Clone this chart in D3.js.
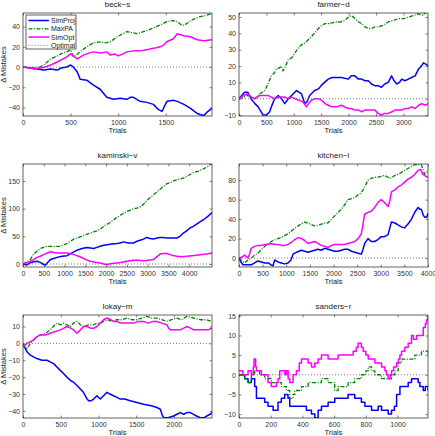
<!DOCTYPE html>
<html><head><meta charset="utf-8">
<script src="https://cdn.jsdelivr.net/npm/d3@7"></script>
<style>body{margin:0;background:#fff} text{font-family:"Liberation Sans",Arial,Helvetica,sans-serif}</style>
</head><body><svg id="c" width="435" height="436"></svg>
<script>
// ---- data: [trial, delta mistakes] ----
const seriesNames = ["SimProj","MaxPA","SimOpt","Optimal"];
const titles = ["beck−s","farmer−d","kaminski−v","kitchen−l","lokay−m","sanders−r"];
const xMaxes = [1985,3450,4550,4000,2505,1192];
const yDomains = [[-48.5,53.5],[-10.6,52.5],[-5.4,180.7],[-9.2,96.6],[-44.2,16.8],[-11,15.2]];
const xTicks = [[0,500,1000,1500],[0,500,1000,1500,2000,2500,3000],[0,500,1000,1500,2000,2500,3000,3500,4000],[0,500,1000,1500,2000,2500,3000,3500,4000],[0,500,1000,1500,2000],[0,200,400,600,800,1000]];
const yTicks = [[-40,-20,0,20,40],[-10,0,10,20,30,40,50],[0,50,100,150],[0,20,40,60,80],[-40,-30,-20,-10,0,10],[-10,-5,0,5,10,15]];

const beckSimProj = [[0,0],[80,-1],[150,-2],[220,-3],[290,-2],[360,-3],[400,-1],[460,0],[500,2],[530,0],[570,-5],[600,-12],[670,-13],[740,-18],[810,-22],[880,-30],[950,-32],[1020,-31],[1090,-32],[1127,-30],[1160,-30],[1230,-34],[1300,-35],[1370,-37],[1420,-42],[1460,-44],[1490,-38],[1512,-34],[1580,-33],[1620,-34],[1690,-37],[1760,-41],[1800,-44],[1830,-46],[1860,-47],[1900,-48],[1930,-45],[1985,-41]];
const beckMaxPA = [[0,0],[100,-1],[180,0],[230,3],[290,8],[360,11],[420,14],[460,15],[500,17],[530,10],[560,12],[600,15],[670,20],[740,24],[810,25],[870,24],[915,25],[990,30],[1050,33],[1090,35],[1150,34],[1200,33],[1300,36],[1400,40],[1450,42],[1510,45],[1580,46],[1620,45],[1670,41],[1720,43],[1760,46],[1860,50],[1920,51],[1985,53]];
const beckSimOpt = [[0,0],[60,-1],[120,-2],[180,-1],[230,0],[290,2],[360,5],[420,8],[460,10],[500,13],[540,10],[570,8],[640,12],[700,14],[740,15],[820,14],[880,15],[915,12],[960,13],[1000,11],[1050,13],[1090,15],[1160,16],[1230,16],[1300,17],[1340,18],[1400,19],[1440,20],[1480,22],[1510,25],[1580,28],[1620,33],[1690,31],[1760,30],[1830,27],[1900,26],[1985,27]];

const farmerSimProj = [[0,0],[50,2],[100,4],[160,4],[220,0],[290,-3],[350,-5],[440,-10],[500,-10],[560,-8],[590,-5],[650,0],[715,2],[775,0],[835,-3],[900,0],[960,2],[1050,5],[1140,3],[1200,-3],[1240,-2],[1290,2],[1380,5],[1450,6],[1500,8],[1560,10],[1630,12],[1700,13],[1750,13],[1870,13],[1995,12],[2050,14],[2115,14],[2180,12],[2240,12],[2300,11],[2360,11],[2420,9],[2480,8],[2540,8],[2600,7],[2660,9],[2725,10],[2785,14],[2830,11],[2880,9],[2930,10],[2970,12],[3030,11],[3090,12],[3150,13],[3215,14],[3275,18],[3330,20],[3365,22],[3420,21],[3450,20]];
const farmerMaxPA = [[0,0],[80,1],[160,2],[220,1],[290,0],[380,3],[470,5],[530,9],[590,14],[650,16],[680,18],[740,19],[775,20],[805,17],[850,20],[900,24],[960,25],[1020,28],[1080,31],[1140,33],[1200,34],[1260,36],[1320,38],[1400,41],[1450,43],[1510,45],[1570,46],[1650,46],[1750,47],[1850,47],[1930,48],[2000,50],[2055,51],[2120,49],[2180,47],[2240,46],[2300,44],[2360,43],[2420,43],[2480,44],[2540,44],[2630,45],[2725,47],[2820,48],[2910,49],[3000,49],[3090,50],[3180,51],[3275,52],[3360,51],[3400,53],[3450,52]];
const farmerSimOpt = [[0,0],[80,2],[160,3],[220,1],[290,0],[380,2],[450,2],[530,2],[590,1],[650,0],[720,1],[780,1],[835,1],[900,0],[960,1],[1020,0],[1100,-1],[1170,-2],[1230,-5],[1270,-3],[1320,-1],[1380,0],[1450,0],[1510,-1],[1570,-3],[1630,-4],[1690,-5],[1780,-5],[1870,-4],[1930,-5],[1995,-6],[2050,-6],[2115,-7],[2180,-7],[2240,-8],[2300,-7],[2360,-7],[2420,-7],[2480,-7],[2540,-9],[2600,-10],[2660,-9],[2725,-9],[2790,-8],[2850,-7],[2910,-7],[2970,-7],[3030,-6],[3090,-6],[3150,-5],[3215,-6],[3280,-4],[3335,-3],[3400,-4],[3450,-3]];

const kaminskiSimProj = [[0,0],[80,-2],[175,2],[255,4],[335,5],[415,3],[480,0],[540,-2],[600,3],[660,8],[740,10],[820,12],[940,14],[1060,15],[1180,20],[1300,25],[1420,28],[1540,30],[1620,29],[1700,28],[1780,30],[1860,32],[1940,34],[2020,35],[2140,36],[2260,37],[2340,38],[2420,40],[2540,38],[2660,38],[2740,41],[2820,43],[2900,45],[2980,48],[3060,46],[3140,45],[3220,47],[3300,48],[3380,48],[3460,47],[3580,47],[3700,47],[3780,50],[3860,56],[3940,60],[4020,65],[4100,68],[4180,72],[4260,76],[4345,80],[4450,86],[4550,93]];
const kaminskiMaxPA = [[0,0],[100,4],[175,8],[255,18],[335,23],[415,28],[500,30],[580,32],[660,32],[780,32],[900,32],[980,35],[1060,37],[1140,41],[1220,45],[1340,48],[1460,52],[1580,55],[1700,58],[1780,60],[1860,63],[1980,70],[2100,75],[2220,82],[2340,88],[2500,95],[2660,100],[2740,101],[2820,103],[2900,108],[2980,115],[3060,120],[3140,125],[3220,130],[3300,135],[3380,140],[3460,145],[3540,147],[3620,150],[3740,153],[3860,155],[3980,160],[4100,165],[4220,168],[4345,172],[4450,176],[4550,182]];
const kaminskiSimOpt = [[0,0],[80,2],[175,5],[255,8],[335,12],[415,14],[495,17],[580,20],[660,22],[740,21],[820,20],[940,20],[1060,20],[1140,19],[1220,17],[1340,14],[1460,10],[1540,7],[1620,5],[1740,3],[1860,2],[1940,0],[2020,-1],[2140,1],[2260,2],[2380,3],[2500,5],[2580,6],[2660,7],[2780,7],[2900,6],[3020,7],[3140,8],[3220,13],[3300,18],[3380,19],[3460,19],[3580,16],[3700,14],[3820,13],[3945,14],[4060,15],[4180,16],[4300,17],[4420,18],[4550,20]];

const kitchenSimProj = [[0,0],[40,-4],[85,-7],[170,-7],[260,-7],[330,-5],[400,-3],[470,-4],[545,-5],[615,-5],[680,-7],[720,-8],[755,-2],[825,-4],[895,-5],[965,-6],[1037,-5],[1100,-2],[1143,4],[1220,6],[1320,8],[1390,7],[1460,6],[1530,7],[1600,8],[1670,9],[1740,8],[1810,10],[1885,9],[1955,8],[2025,7],[2100,7],[2165,8],[2236,9],[2307,9],[2380,7],[2450,6],[2520,5],[2590,4],[2625,9],[2660,15],[2730,20],[2800,17],[2870,17],[2940,19],[3010,22],[3080,22],[3155,24],[3225,37],[3300,36],[3365,34],[3435,32],[3506,31],[3577,35],[3650,40],[3720,47],[3790,52],[3830,50],[3860,50],[3900,44],[3930,42],[3970,42],[4000,46]];
const kitchenMaxPA = [[0,0],[60,-3],[120,-5],[190,-2],[260,0],[330,3],[400,5],[500,10],[615,15],[720,18],[825,20],[930,22],[1037,25],[1143,29],[1250,33],[1320,35],[1390,37],[1500,35],[1600,33],[1700,34],[1810,36],[1880,36],[1955,40],[2060,45],[2165,50],[2240,55],[2307,60],[2380,61],[2450,62],[2520,65],[2590,67],[2660,73],[2730,80],[2800,82],[2870,83],[2940,83],[3010,84],[3080,85],[3150,83],[3225,82],[3300,85],[3365,86],[3435,88],[3506,90],[3577,92],[3650,94],[3720,96],[3790,96],[3860,96],[3900,90],[3930,86],[3970,88],[4000,91]];
const kitchenSimOpt = [[0,0],[60,1],[120,3],[190,0],[230,5],[260,10],[330,12],[400,13],[470,13],[545,14],[615,14],[685,15],[755,14],[825,14],[895,13],[965,13],[1037,14],[1107,16],[1180,19],[1250,21],[1320,20],[1390,18],[1460,15],[1530,16],[1600,17],[1670,15],[1740,13],[1810,12],[1885,11],[1955,13],[2025,14],[2100,14],[2165,14],[2236,14],[2307,15],[2380,16],[2450,17],[2520,20],[2590,25],[2625,35],[2660,45],[2730,47],[2800,48],[2870,52],[2940,57],[3010,60],[3080,57],[3155,53],[3190,58],[3225,68],[3300,70],[3365,73],[3435,75],[3506,78],[3577,81],[3650,83],[3720,86],[3790,90],[3840,91],[3895,86],[3950,84],[4000,83]];

const lokaySimProj = [[0,-1],[30,-3],[53,-5],[97,-7],[140,-8],[185,-9],[250,-10],[318,-10],[360,-11],[406,-12],[450,-14],[494,-16],[540,-18],[583,-20],[630,-22],[671,-23],[715,-25],[760,-27],[800,-29],[825,-31],[850,-33],[870,-34],[900,-34],[936,-33],[980,-31],[1024,-33],[1068,-31],[1112,-29],[1150,-30],[1200,-31],[1245,-32],[1290,-33],[1350,-33],[1420,-34],[1510,-35],[1600,-36],[1700,-37],[1775,-38],[1820,-39],[1850,-43],[1863,-44],[1920,-44],[1996,-43],[2040,-42],[2084,-41],[2130,-42],[2172,-41],[2220,-41],[2260,-42],[2300,-43],[2349,-44],[2400,-44],[2437,-43],[2480,-42],[2505,-41]];
const lokayMaxPA = [[0,0],[30,-2],[53,-3],[100,0],[140,2],[185,4],[230,5],[300,6],[360,8],[400,10],[450,12],[500,11],[540,12],[580,11],[627,10],[670,12],[715,13],[760,11],[803,10],[870,11],[936,11],[980,12],[1024,12],[1070,13],[1112,14],[1180,13],[1245,14],[1310,14],[1377,15],[1440,14],[1510,14],[1575,15],[1642,16],[1710,15],[1775,15],[1840,14],[1907,13],[1970,14],[2040,15],[2100,14],[2172,16],[2260,15],[2349,14],[2430,14],[2505,13]];
const lokaySimOpt = [[0,-2],[30,-1],[53,0],[100,1],[140,2],[185,4],[230,5],[300,5],[360,6],[430,7],[494,8],[540,9],[583,10],[630,9],[671,8],[715,6],[760,8],[803,10],[850,10],[892,9],[940,9],[980,10],[1024,12],[1068,14],[1112,15],[1160,14],[1200,13],[1245,13],[1290,12],[1350,12],[1410,12],[1466,12],[1530,13],[1598,13],[1660,12],[1720,13],[1775,13],[1840,12],[1907,11],[1930,9],[1951,8],[2020,8],[2084,8],[2130,9],[2172,10],[2220,9],[2260,8],[2320,8],[2393,8],[2450,8],[2505,9]];

const sandersSimProj = [[0,0],[36,-1],[57,-2],[78,-1],[99,-3],[110,-6],[141,-6],[162,-7],[183,-8],[215,-9],[246,-7],[267,-6],[288,-5],[309,-6],[320,-8],[352,-8],[394,-8],[425,-9],[457,-10],[478,-11],[499,-9],[520,-8],[541,-8],[562,-7],[583,-7],[604,-6],[625,-6],[646,-6],[667,-6],[688,-5],[709,-5],[730,-6],[751,-6],[772,-7],[794,-8],[815,-8],[836,-9],[857,-9],[878,-8],[899,-9],[920,-9],[941,-10],[962,-9],[980,-8],[994,-5],[1015,-3],[1030,-3],[1046,-3],[1067,-2],[1088,-1],[1109,-1],[1130,-2],[1141,-3],[1162,-4],[1175,-3],[1192,-4]];
const sandersMaxPA = [[0,0],[36,-1],[57,-2],[78,0],[99,1],[130,0],[162,-1],[204,-2],[236,-2],[267,-3],[299,-4],[320,-6],[341,-5],[352,-4],[394,-3],[436,-2],[478,-2],[520,-1],[562,-2],[604,-4],[625,-3],[646,-3],[688,-2],[730,-1],[772,0],[800,1],[815,2],[836,1],[857,0],[878,0],[899,-1],[920,-1],[941,-1],[962,0],[983,1],[1004,3],[1025,4],[1067,4],[1109,5],[1130,5],[1151,6],[1172,6],[1192,5]];
const sandersSimOpt = [[0,1],[25,0],[57,1],[78,0],[90,2],[95,4],[105,2],[110,1],[141,0],[183,-2],[204,-3],[236,-2],[246,-1],[257,1],[278,1],[290,0],[299,1],[310,-1],[320,-2],[341,0],[362,1],[380,3],[394,4],[415,4],[436,3],[457,2],[478,3],[499,4],[520,5],[562,4],[604,4],[625,5],[688,5],[720,6],[740,7],[751,8],[772,7],[783,6],[800,5],[815,4],[836,4],[857,3],[878,3],[899,2],[920,1],[930,0],[941,-1],[955,0],[962,1],[975,2],[994,3],[1005,4],[1015,5],[1025,6],[1046,7],[1067,8],[1088,10],[1100,9],[1120,10],[1141,10],[1162,12],[1175,13],[1183,14],[1192,15]];

const panelSeries = [
  [beckSimProj, beckMaxPA, beckSimOpt],
  [farmerSimProj, farmerMaxPA, farmerSimOpt],
  [kaminskiSimProj, kaminskiMaxPA, kaminskiSimOpt],
  [kitchenSimProj, kitchenMaxPA, kitchenSimOpt],
  [lokaySimProj, lokayMaxPA, lokaySimOpt],
  [sandersSimProj, sandersMaxPA, sandersSimOpt]
];

// ---- styles / layout ----
const colors = ["#0000ff","#008000","#ff00ff"];
const dashes = [null,"4,1.5,1,1.5",null];
const widths = [1.5,1.3,1.5];
const colX = [23,239], rowY = [13,164,315];
const W = 189, H = 103;
const svg = d3.select("#c");
const fmt = d3.format("d");

panelSeries.forEach((series,i)=>{
  const px = colX[i%2], py = rowY[Math.floor(i/2)];
  const g = svg.append("g").attr("transform",`translate(${px},${py})`);
  const x = d3.scaleLinear().domain([0,xMaxes[i]]).range([0,W]);
  const y = d3.scaleLinear().domain(yDomains[i]).range([H,0]);
  const clipId = "clip"+i;
  g.append("clipPath").attr("id",clipId).append("rect").attr("width",W).attr("height",H);

  const ax = (sel)=>{ sel.select(".domain").remove();
    sel.selectAll(".tick line").attr("stroke","#333").attr("stroke-width",0.6);
    sel.selectAll(".tick text").attr("fill","#333").style("font-size","7px"); };
  g.append("g").attr("transform",`translate(0,${H})`)
    .call(d3.axisBottom(x).tickValues(xTicks[i]).tickFormat(fmt).tickSize(-2.5).tickPadding(4)).call(ax);
  g.append("g").call(d3.axisTop(x).tickValues(xTicks[i]).tickSize(-2.5).tickFormat("")).call(ax);
  g.append("g").call(d3.axisLeft(y).tickValues(yTicks[i]).tickFormat(fmt).tickSize(-2.5).tickPadding(3)).call(ax);
  g.append("g").attr("transform",`translate(${W},0)`)
    .call(d3.axisRight(y).tickValues(yTicks[i]).tickSize(-2.5).tickFormat("")).call(ax);

  const curve = i===5 ? d3.curveStepAfter : d3.curveLinear;
  const line = d3.line().x(d=>x(d[0])).y(d=>y(d[1])).curve(curve);
  const lg = g.append("g").attr("clip-path",`url(#${clipId})`);
  series.forEach((s,k)=>{
    lg.append("path").datum(s).attr("d",line).attr("fill","none")
      .attr("stroke",colors[k]).attr("stroke-width",widths[k])
      .attr("stroke-dasharray",dashes[k]).attr("stroke-linejoin","round");
  });
  // Optimal: zero line
  lg.append("line").attr("x1",0).attr("x2",W).attr("y1",y(0)).attr("y2",y(0))
    .attr("stroke","#555").attr("stroke-width",0.8).attr("stroke-dasharray","1,2");

  g.append("rect").attr("width",W).attr("height",H).attr("fill","none")
    .attr("stroke","#222").attr("stroke-width",0.7);

  g.append("text").attr("x",W/2).attr("y",-6).attr("text-anchor","middle")
    .style("font-size","8px").attr("fill","#222").text(titles[i]);
  g.append("text").attr("x",W/2).attr("y",H+17).attr("text-anchor","middle")
    .style("font-size","7.5px").attr("fill","#222").text("Trials");
  if(i%2===0){
    g.append("text").attr("transform",`translate(${6-px},${H/2}) rotate(-90)`)
      .attr("text-anchor","middle").style("font-size","7.5px").attr("fill","#222").text("Δ Mistakes");
  }
  if(i===0){
    const leg = g.append("g").attr("transform","translate(3,2)");
    leg.append("rect").attr("width",50).attr("height",34).attr("fill","#fff")
      .attr("stroke","#222").attr("stroke-width",0.7);
    seriesNames.forEach((n,k)=>{
      const yy = 5.5 + k*8.3;
      leg.append("line").attr("x1",2.5).attr("x2",23).attr("y1",yy).attr("y2",yy)
        .attr("stroke",k<3?colors[k]:"#555").attr("stroke-width",k<3?widths[k]:0.8)
        .attr("stroke-dasharray",k<3?dashes[k]:"1,2");
      leg.append("text").attr("x",25).attr("y",yy+2.4).style("font-size","7px")
        .attr("fill","#222").text(n);
    });
  }
});
</script>
</body></html>
